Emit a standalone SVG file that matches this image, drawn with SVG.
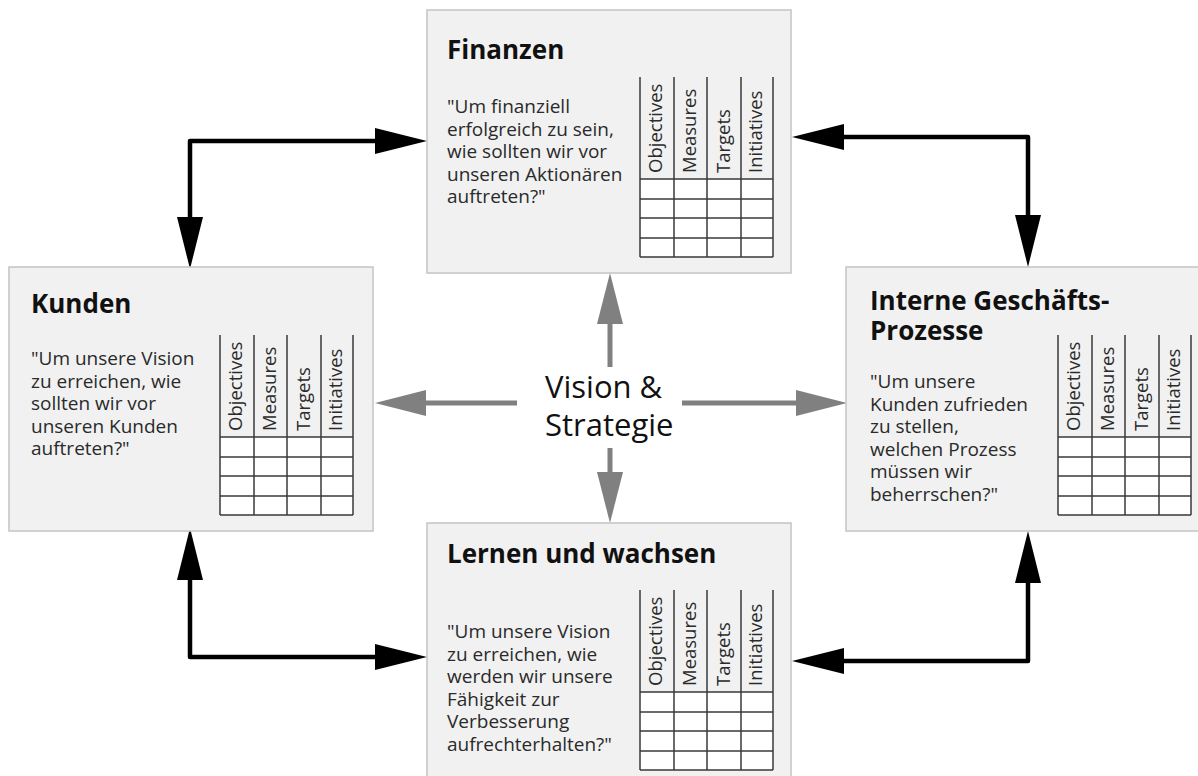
<svg xmlns="http://www.w3.org/2000/svg" width="1198" height="776" viewBox="0 0 1198 776">
<style>
.box{fill:#f1f1f1;stroke:#c4c4c4;stroke-width:1.5}
.title{font-family:"Open Sans","Liberation Sans",sans-serif;font-weight:bold;font-size:26px;fill:#111}
.body{font-family:"Open Sans","Liberation Sans",sans-serif;font-size:19px;fill:#2a2a2a}
.hdr{font-family:"Open Sans","Liberation Sans",sans-serif;font-size:18.5px;fill:#2a2a2a}
.cells{fill:#ffffff;stroke:none}
.grid{stroke:#3a3a3a;stroke-width:1.5;fill:none}
.blk{stroke:#000;stroke-width:4.5;fill:none;stroke-linejoin:round}
.gry{stroke:#808080;stroke-width:5;fill:none}
.center{font-family:"Open Sans","Liberation Sans",sans-serif;font-size:31px;fill:#111}
</style>
<defs>
<marker id="ab" markerUnits="userSpaceOnUse" viewBox="0 0 52 26" refX="0" refY="13" markerWidth="52" markerHeight="26" orient="auto-start-reverse"><path d="M0,0 L52,13 L0,26 z" fill="#000"/></marker>
<marker id="ag" markerUnits="userSpaceOnUse" viewBox="0 0 51 26" refX="0" refY="13" markerWidth="51" markerHeight="26" orient="auto"><path d="M0,0 L51,13 L0,26 z" fill="#808080"/></marker>
<g id="tbl">
<rect class="cells" x="0" y="102" width="133" height="78"/>
<path class="grid" d="M0,0 V180 M34,0 V180 M67,0 V180 M101,0 V180 M133,0 V180 M0,102 H133 M0,122 H133 M0,141 H133 M0,161 H133 M0,180 H133"/>
<text class="hdr" transform="translate(22,96) rotate(-90)">Objectives</text>
<text class="hdr" transform="translate(56,96) rotate(-90)">Measures</text>
<text class="hdr" transform="translate(90,96) rotate(-90)">Targets</text>
<text class="hdr" transform="translate(122,96) rotate(-90)">Initiatives</text>
</g>
</defs>

<g id="connectors">
<polyline class="blk" points="190,217 190,141 375,141" marker-start="url(#ab)" marker-end="url(#ab)"/>
<polyline class="blk" points="1028,215 1028,137 844,137" marker-start="url(#ab)" marker-end="url(#ab)"/>
<polyline class="blk" points="190,580 190,657 375,657" marker-start="url(#ab)" marker-end="url(#ab)"/>
<polyline class="blk" points="1028,583 1028,661 844,661" marker-start="url(#ab)" marker-end="url(#ab)"/>
<line class="gry" x1="610" y1="367" x2="610" y2="324" marker-end="url(#ag)"/>
<line class="gry" x1="610" y1="448" x2="610" y2="472" marker-end="url(#ag)"/>
<line class="gry" x1="517" y1="403" x2="426" y2="403" marker-end="url(#ag)"/>
<line class="gry" x1="682" y1="403" x2="796" y2="403" marker-end="url(#ag)"/>
</g>

<g id="finanzen">
<rect class="box" x="427" y="10" width="364" height="263"/>
<text class="title" x="447" y="59">Finanzen</text>
<text class="body" x="447" y="113">"Um finanziell</text>
<text class="body" x="447" y="135.5">erfolgreich zu sein,</text>
<text class="body" x="447" y="158">wie sollten wir vor</text>
<text class="body" x="447" y="180.5">unseren Aktionären</text>
<text class="body" x="447" y="203">auftreten?"</text>
<use href="#tbl" x="640" y="77"/>
</g>

<g id="kunden">
<rect class="box" x="9" y="267" width="364" height="264"/>
<text class="title" x="31" y="313">Kunden</text>
<text class="body" x="31" y="365">"Um unsere Vision</text>
<text class="body" x="31" y="387.5">zu erreichen, wie</text>
<text class="body" x="31" y="410">sollten wir vor</text>
<text class="body" x="31" y="432.5">unseren Kunden</text>
<text class="body" x="31" y="455">auftreten?"</text>
<use href="#tbl" x="220" y="335"/>
</g>

<g id="interne">
<rect class="box" x="846" y="267" width="360" height="264"/>
<text class="title" x="870" y="310">Interne Geschäfts-</text>
<text class="title" x="870" y="340">Prozesse</text>
<text class="body" x="870" y="388">"Um unsere</text>
<text class="body" x="870" y="410.5">Kunden zufrieden</text>
<text class="body" x="870" y="433">zu stellen,</text>
<text class="body" x="870" y="455.5">welchen Prozess</text>
<text class="body" x="870" y="478">müssen wir</text>
<text class="body" x="870" y="500.5">beherrschen?"</text>
<use href="#tbl" x="1058" y="335"/>
</g>

<g id="lernen">
<rect class="box" x="427" y="523" width="364" height="270"/>
<text class="title" x="447" y="563">Lernen und wachsen</text>
<text class="body" x="447" y="638">"Um unsere Vision</text>
<text class="body" x="447" y="660.5">zu erreichen, wie</text>
<text class="body" x="447" y="683">werden wir unsere</text>
<text class="body" x="447" y="705.5">Fähigkeit zur</text>
<text class="body" x="447" y="728">Verbesserung</text>
<text class="body" x="447" y="750.5">aufrechterhalten?"</text>
<use href="#tbl" x="640" y="590"/>
</g>

<g id="vision">
<text class="center" x="545" y="398">Vision &amp;</text>
<text class="center" x="545" y="436">Strategie</text>
</g>
</svg>
